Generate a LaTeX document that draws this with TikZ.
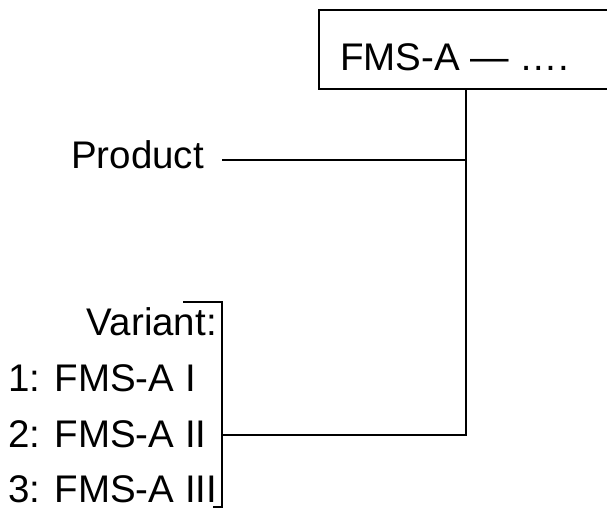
\documentclass[tikz,border=0pt]{standalone}
\usepackage{fontspec}
\setmainfont{Liberation Sans}
\begin{document}
\begin{tikzpicture}[x=1pt,y=-1pt,
  lbl/.style={inner sep=0pt,font=\fontsize{38.5}{46}\selectfont},
  ln/.style={line width=2.2pt}]
\useasboundingbox (0,0) rectangle (607,515);
\node[draw,line width=2.4pt,minimum width=292pt,minimum height=79pt,anchor=north west,inner sep=0pt] (box) at (318,9) {};
\node[lbl,anchor=base west] (boxtext) at (340,70) {FMS-A — ….};
\node[lbl,anchor=base west] (product) at (71,168) {Product};
\node[lbl,anchor=base east] (variant) at (217,335) {Variant:};
\node[lbl,anchor=base west] (v1) at (8,391) {1: FMS-A I};
\node[lbl,anchor=base west] (v2) at (8,447) {2: FMS-A II};
\node[lbl,anchor=base west] (v3) at (8,502) {3: FMS-A III};
\coordinate (top) at (466,88);
\coordinate (pj) at (466,160);
\coordinate (vj) at (466,435);
\coordinate (bt) at (222,302);
\coordinate (bb) at (222,507);
\coordinate (bm) at (222,435);
\draw[ln] (top) -- (vj) -- (bm);
\draw[ln] ([xshift=18pt]product.east |- pj) -- (pj);
\draw[ln] (bt -| 183,0) -- (bt) -- (bb) -- ([xshift=-9pt]bb);
\end{tikzpicture}
\end{document}
